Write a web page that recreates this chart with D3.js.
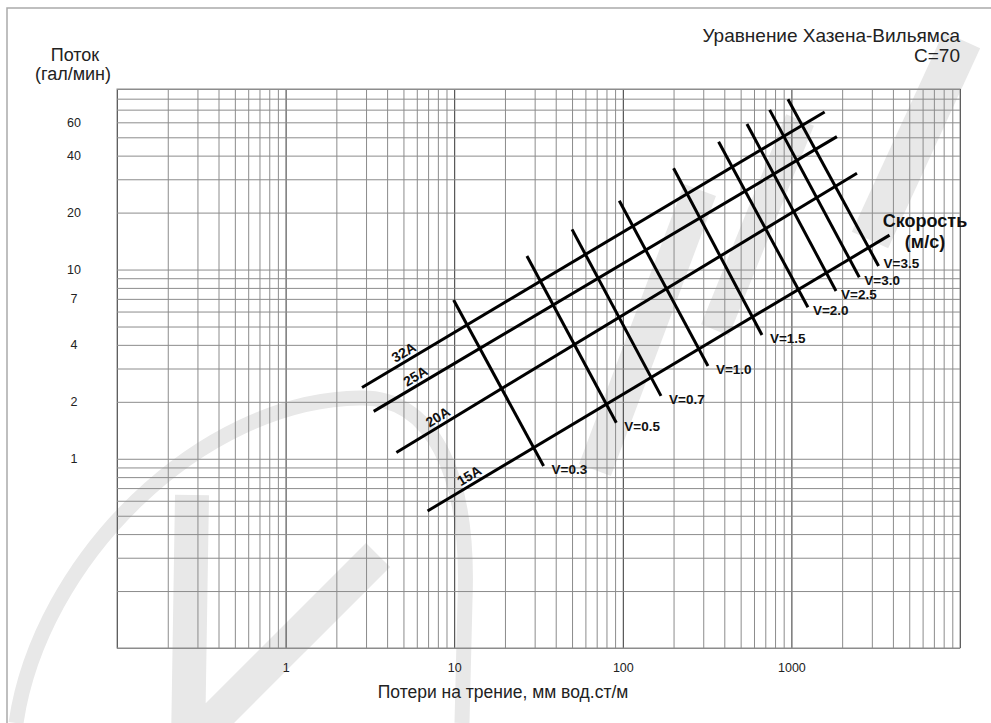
<!DOCTYPE html>
<html>
<head>
<meta charset="utf-8">
<script src="https://cdn.jsdelivr.net/npm/d3@7"></script>
<style>
  body { margin: 0; background: #fff; }
  svg { display: block; font-family: "Liberation Sans", Arial, sans-serif; }
</style>
</head>
<body>
<svg id="chart" width="991" height="723"></svg>
<script>
// axis labels
const xLabels = [1, 10, 100, 1000];
const yLabels = [60, 40, 20, 10, 7, 4, 2, 1];

// pipe size lines: [friction loss, flow] at both ends
const pipeNames = ['32A', '25A', '20A', '15A'];
const pipeFrom = [[2.84, 2.38], [3.33, 1.78], [4.54, 1.08], [6.95, 0.53]];
const pipeTo = [[1574, 68.1], [1862, 50.4], [2449, 32.3], [3820, 15.2]];

// constant velocity lines
const speedNames = ['V=0.3', 'V=0.5', 'V=0.7', 'V=1.0', 'V=1.5', 'V=2.0', 'V=2.5', 'V=3.0', 'V=3.5'];
const speedTop = [[9.92, 6.91], [27.0, 11.8], [50.0, 16.3], [95.3, 23.1], [200, 34.3],
  [370, 47.4], [545, 58.8], [743, 69.8], [954, 79.5]];
const speedBottom = [[33.9, 0.916], [91.5, 1.55], [168.5, 2.15], [320, 3.09], [669, 4.51],
  [1253, 6.32], [1839, 7.71], [2527, 9.11], [3289, 10.45]];

const PLOT = { left: 117, right: 960, top: 89, bottom: 648 };
const TEXT_COLOR = '#222';
const GRID_COLOR = '#8c8c8c';

const svg = d3.select('#chart');

const x = d3.scaleLog().domain([0.1, 10000]).range([PLOT.left, PLOT.right]);
const y = d3.scaleLog().domain([0.1, 90]).range([PLOT.bottom, PLOT.top]);

// page frame (top and left only)
svg.append('path')
  .attr('d', 'M7,723 L7,8 L991,8')
  .attr('fill', 'none')
  .attr('stroke', '#aaa')
  .attr('stroke-width', 1.5);

// faint logo watermark
const wm = svg.append('g')
  .attr('fill', 'none')
  .attr('stroke', '#e8e8e8')
  .attr('stroke-linecap', 'butt');
wm.append('path')
  .attr('d', 'M16,723 C40,560 200,400 360,398 C430,396 470,470 465,600 L462,723')
  .attr('stroke-width', 15);
wm.append('path')
  .attr('d', 'M192,495 L188,745 L378,555')
  .attr('stroke-width', 34)
  .attr('stroke-linejoin', 'round');
wm.append('path').attr('d', 'M595,470 L700,190').attr('stroke-width', 34);
wm.append('path').attr('d', 'M715,330 L800,120').attr('stroke-width', 30);
wm.append('path').attr('d', 'M870,240 L962,40').attr('stroke-width', 40);

// grid
const height = PLOT.bottom - PLOT.top;
const width = PLOT.right - PLOT.left;

const xGrid = svg.append('g')
  .attr('transform', `translate(0,${PLOT.bottom})`)
  .call(d3.axisBottom(x).tickValues(x.ticks()).tickSize(-height).tickFormat(''));
xGrid.select('.domain').remove();
xGrid.selectAll('.tick line')
  .attr('stroke', d => (Math.abs(Math.log10(d) % 1) < 1e-6 ? '#333' : GRID_COLOR));

const yGrid = svg.append('g')
  .attr('transform', `translate(${PLOT.left},0)`)
  .call(d3.axisLeft(y).tickValues(y.ticks()).tickSize(-width).tickFormat(''));
yGrid.select('.domain').remove();
yGrid.selectAll('.tick line').attr('stroke', GRID_COLOR);

svg.append('rect')
  .attr('x', PLOT.left)
  .attr('y', PLOT.top)
  .attr('width', width)
  .attr('height', height)
  .attr('fill', 'none')
  .attr('stroke', GRID_COLOR);

// tick labels
const xAxis = svg.append('g')
  .attr('transform', `translate(0,${PLOT.bottom})`)
  .call(d3.axisBottom(x).tickValues(xLabels).tickSize(0).tickPadding(15).tickFormat(d3.format('d')));
xAxis.select('.domain').remove();
xAxis.selectAll('text')
  .attr('fill', TEXT_COLOR)
  .style('font-size', '12.5px')
  .style('font-family', '"Liberation Sans", Arial, sans-serif');

const yAxis = svg.append('g')
  .attr('transform', `translate(${PLOT.left},0)`)
  .call(d3.axisLeft(y).tickValues(yLabels).tickSize(0).tickFormat(d3.format('d')));
yAxis.select('.domain').remove();
yAxis.selectAll('text')
  .attr('fill', TEXT_COLOR)
  .attr('x', 74 - PLOT.left)
  .attr('text-anchor', 'middle')
  .style('font-size', '12.5px')
  .style('font-family', '"Liberation Sans", Arial, sans-serif');

// titles
svg.append('text')
  .attr('x', 75).attr('y', 61)
  .attr('text-anchor', 'middle')
  .attr('fill', TEXT_COLOR)
  .style('font-size', '18px')
  .text('Поток');
svg.append('text')
  .attr('x', 73).attr('y', 80)
  .attr('text-anchor', 'middle')
  .attr('fill', TEXT_COLOR)
  .style('font-size', '18px')
  .text('(гал/мин)');

svg.append('text')
  .attr('x', 960).attr('y', 42)
  .attr('text-anchor', 'end')
  .attr('fill', TEXT_COLOR)
  .style('font-size', '19px')
  .text('Уравнение Хазена-Вильямса');
svg.append('text')
  .attr('x', 960).attr('y', 62)
  .attr('text-anchor', 'end')
  .attr('fill', TEXT_COLOR)
  .style('font-size', '19px')
  .text('C=70');

svg.append('text')
  .attr('x', 503).attr('y', 698)
  .attr('text-anchor', 'middle')
  .attr('fill', TEXT_COLOR)
  .style('font-size', '17.5px')
  .text('Потери на трение, мм вод.ст/м');

// velocity legend title
svg.append('text')
  .attr('x', 925).attr('y', 227)
  .attr('text-anchor', 'middle')
  .attr('fill', '#111')
  .style('font-size', '18px')
  .style('font-weight', 'bold')
  .text('Скорость');
svg.append('text')
  .attr('x', 925).attr('y', 248)
  .attr('text-anchor', 'middle')
  .attr('fill', '#111')
  .style('font-size', '18px')
  .style('font-weight', 'bold')
  .text('(м/с)');

// pipe lines
const pipes = pipeNames.map((name, i) => ({ name, from: pipeFrom[i], to: pipeTo[i] }));
const speeds = speedNames.map((name, i) => ({ name, top: speedTop[i], bottom: speedBottom[i] }));

const line = d3.line().x(d => x(d[0])).y(d => y(d[1]));

svg.append('g')
  .selectAll('path')
  .data(pipes)
  .join('path')
  .attr('d', d => line([d.from, d.to]))
  .attr('fill', 'none')
  .attr('stroke', '#000')
  .attr('stroke-width', 3);

svg.append('g')
  .selectAll('path')
  .data(speeds)
  .join('path')
  .attr('d', d => line([d.top, d.bottom]))
  .attr('fill', 'none')
  .attr('stroke', '#000')
  .attr('stroke-width', 3);

// pipe labels, rotated along each line
svg.append('g')
  .selectAll('text')
  .data(pipes)
  .join('text')
  .attr('transform', d => {
    const x0 = x(d.from[0]), y0 = y(d.from[1]);
    const x1 = x(d.to[0]), y1 = y(d.to[1]);
    const t = 0.1;
    const angle = Math.atan2(y1 - y0, x1 - x0) * 180 / Math.PI;
    return `translate(${x0 + (x1 - x0) * t},${y0 + (y1 - y0) * t}) rotate(${angle})`;
  })
  .attr('dy', -4)
  .attr('text-anchor', 'middle')
  .attr('fill', '#111')
  .style('font-size', '14px')
  .style('font-weight', 'bold')
  .text(d => d.name);

// velocity labels at the lower end; the last one sits higher to clear its neighbour
const last = speeds.length - 1;
svg.append('g')
  .selectAll('text')
  .data(speeds)
  .join('text')
  .attr('x', (d, i) => x(d.bottom[0]) + (i >= 5 ? 5 : 8))
  .attr('y', (d, i) => y(d.bottom[1]) + (i === last ? 2 : 8))
  .attr('fill', '#111')
  .style('font-size', '13.5px')
  .style('font-weight', 'bold')
  .text(d => d.name);
</script>
</body>
</html>
